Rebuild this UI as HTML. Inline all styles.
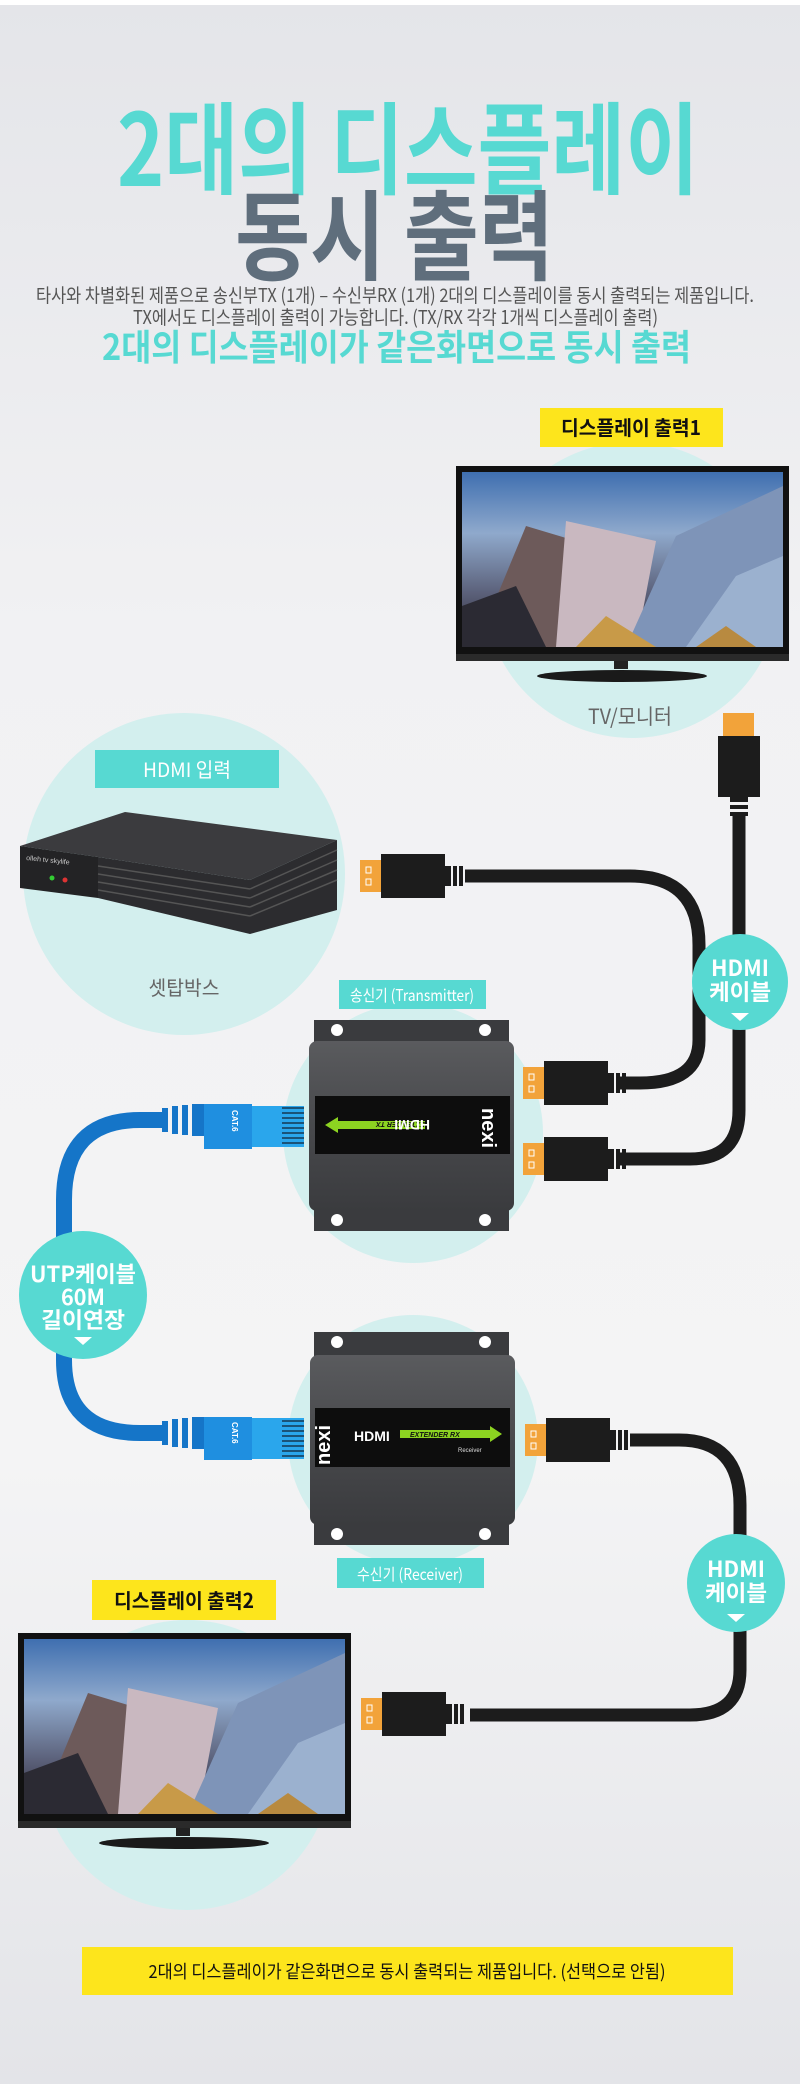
<!DOCTYPE html>
<html><head><meta charset="utf-8"><style>
html,body{margin:0;padding:0;width:800px;height:2084px;overflow:hidden;background:#ececef}
svg{display:block}
text{font-family:"Liberation Sans","Noto Sans CJK KR",sans-serif}
.k{font-family:"Noto Sans CJK KR","Liberation Sans",sans-serif}
</style></head><body>
<svg width="800" height="2084" viewBox="0 0 800 2084" xmlns="http://www.w3.org/2000/svg">
<defs>
<linearGradient id="bg" x1="0" y1="0" x2="0" y2="1">
<stop offset="0" stop-color="#e4e5e9"/><stop offset="0.3" stop-color="#f1f1f3"/><stop offset="0.7" stop-color="#f4f4f5"/><stop offset="1" stop-color="#e3e4e8"/></linearGradient>
<linearGradient id="scr" x1="0" y1="0" x2="0" y2="1">
<stop offset="0" stop-color="#3f6fb0"/><stop offset="0.35" stop-color="#8fa9cc"/><stop offset="0.7" stop-color="#5a5f78"/><stop offset="1" stop-color="#2a2630"/></linearGradient>
<linearGradient id="box" x1="0" y1="0" x2="0" y2="1">
<stop offset="0" stop-color="#5a5b5e"/><stop offset="0.5" stop-color="#48494c"/><stop offset="1" stop-color="#3a3b3e"/></linearGradient>
<g id="tv">
<rect x="0" y="0" width="333" height="195" fill="#111"/>
<rect x="6" y="6" width="321" height="175" fill="url(#scr)"/>
<polygon points="20,181 70,60 120,75 110,181" fill="#6d5a5a"/>
<polygon points="100,181 110,55 200,75 180,181" fill="#c9b8c0"/>
<polygon points="170,181 220,70 327,20 327,181" fill="#7e94b8"/>
<polygon points="230,181 280,110 327,90 327,181" fill="#9bb1cf"/>
<polygon points="6,181 6,140 60,120 90,181" fill="#2b2a33"/>
<polygon points="120,181 150,150 200,181" fill="#c89a48"/>
<polygon points="240,181 270,160 300,181" fill="#b88a40"/>
<rect x="0" y="188" width="333" height="7" fill="#2a2a2a"/>
<rect x="158" y="195" width="14" height="8" fill="#222"/>
<ellipse cx="166" cy="210" rx="85" ry="6" fill="#1a1a1a"/>
</g>
<g id="plugR">
<!-- gold tip left, body, rings right; origin at tip left, center y=0 -->
<rect x="0" y="-16" width="21" height="32" fill="#f2a33a"/>
<rect x="6" y="-9" width="5" height="6" fill="none" stroke="#fff" stroke-width="1"/>
<rect x="6" y="3" width="5" height="6" fill="none" stroke="#fff" stroke-width="1"/>
<rect x="21" y="-22" width="64" height="44" fill="#1c1c1c"/>
<rect x="85" y="-10" width="6" height="20" fill="#1c1c1c"/>
<rect x="93" y="-10" width="4" height="20" fill="#1c1c1c"/>
<rect x="99" y="-10" width="4" height="20" fill="#1c1c1c"/>
</g>
</defs>
<rect width="800" height="2084" fill="url(#bg)"/>
<rect width="800" height="5" fill="#ffffff"/>

<!-- titles -->
<text class="k" x="117" y="186" font-size="100" font-weight="bold" fill="#57d9d2" textLength="582" lengthAdjust="spacingAndGlyphs">2대의 디스플레이</text>
<text class="k" x="235" y="272" font-size="98" font-weight="bold" fill="#5f6e7c" textLength="319" lengthAdjust="spacingAndGlyphs">동시 출력</text>
<text class="k" x="36" y="302" font-size="19" fill="#555" textLength="718" lengthAdjust="spacingAndGlyphs">타사와 차별화된 제품으로 송신부TX (1개) – 수신부RX (1개) 2대의 디스플레이를 동시 출력되는 제품입니다.</text>
<text class="k" x="133" y="324" font-size="19" fill="#555" textLength="525" lengthAdjust="spacingAndGlyphs">TX에서도 디스플레이 출력이 가능합니다. (TX/RX 각각 1개씩 디스플레이 출력)</text>
<text class="k" x="102" y="360" font-size="36" font-weight="bold" fill="#57d9d2" textLength="589" lengthAdjust="spacingAndGlyphs">2대의 디스플레이가 같은화면으로 동시 출력</text>

<!-- circles -->
<circle cx="632" cy="590" r="148" fill="#d3efee"/>
<circle cx="184" cy="874" r="161" fill="#d3efee"/>
<circle cx="413" cy="1133" r="130" fill="#d3efee"/>
<circle cx="413" cy="1440" r="125" fill="#d3efee"/>
<circle cx="187" cy="1765" r="145" fill="#d3efee"/>

<!-- TV1 -->
<rect x="540" y="408" width="183" height="39" fill="#fde51c"/>
<text class="k" x="631" y="435" font-size="20" font-weight="bold" fill="#111" text-anchor="middle" textLength="140" lengthAdjust="spacingAndGlyphs">디스플레이 출력1</text>
<use href="#tv" x="456" y="466"/>
<text class="k" x="630" y="724" font-size="21" fill="#666" text-anchor="middle" textLength="84" lengthAdjust="spacingAndGlyphs">TV/모니터</text>

<!-- set top box -->
<rect x="95" y="750" width="184" height="38" fill="#57d9d2"/>
<text class="k" x="187" y="777" font-size="20" fill="#fff" text-anchor="middle" textLength="88" lengthAdjust="spacingAndGlyphs">HDMI 입력</text>
<polygon points="20,846 125,812 337,840 250,880 98,857" fill="#3b3b3e"/>
<polygon points="20,846 98,857 98,898 20,888" fill="#232325"/>
<polygon points="98,857 250,880 337,840 337,910 250,934 98,898" fill="#2c2c2f"/>
<g stroke="#555" stroke-width="1.5">
<line x1="98" y1="866" x2="250" y2="889"/><line x1="98" y1="874" x2="250" y2="898"/><line x1="98" y1="882" x2="250" y2="907"/><line x1="98" y1="890" x2="250" y2="916"/>
<line x1="250" y1="889" x2="337" y2="850"/><line x1="250" y1="898" x2="337" y2="860"/><line x1="250" y1="907" x2="337" y2="870"/><line x1="250" y1="916" x2="337" y2="880"/></g>
<text x="26" y="860" font-size="7" fill="#ccc" transform="rotate(6 26 860)">olleh tv skylife</text>
<circle cx="52" cy="878" r="2.5" fill="#3c3"/><circle cx="65" cy="880" r="2.5" fill="#d33"/>
<text class="k" x="184" y="995" font-size="20" fill="#666" text-anchor="middle" textLength="71" lengthAdjust="spacingAndGlyphs">셋탑박스</text>

<!-- HDMI cables top -->
<path d="M465,876 H630 Q699,876 699,945 V1040 Q699,1083 640,1083 H620" fill="none" stroke="#1c1c1c" stroke-width="13"/>
<path d="M739,815 V1110 Q739,1159 690,1159 H620" fill="none" stroke="#1c1c1c" stroke-width="13"/>
<use href="#plugR" x="360" y="876"/>
<use href="#plugR" x="523" y="1083"/>
<use href="#plugR" x="523" y="1159"/>
<!-- top plug (vertical, tip up) -->
<rect x="723" y="713" width="31" height="23" fill="#f2a33a"/>
<rect x="718" y="736" width="42" height="61" fill="#1c1c1c"/>
<rect x="730" y="797" width="18" height="5" fill="#1c1c1c"/><rect x="730" y="805" width="18" height="4" fill="#1c1c1c"/><rect x="730" y="812" width="18" height="4" fill="#1c1c1c"/>
<circle cx="740" cy="982" r="48" fill="#57d9d2"/>
<text class="k" x="740" y="976" font-size="22" font-weight="bold" fill="#fff" text-anchor="middle" textLength="58" lengthAdjust="spacingAndGlyphs">HDMI</text>
<text class="k" x="740" y="1000" font-size="22" font-weight="bold" fill="#fff" text-anchor="middle" textLength="62" lengthAdjust="spacingAndGlyphs">케이블</text>
<polygon points="731,1013 749,1013 740,1021" fill="#fff"/>

<!-- UTP cable -->
<path d="M165,1120 H140 Q64,1120 64,1200 V1360 Q64,1433 140,1433 H165" fill="none" stroke="#1575c8" stroke-width="16"/>
<circle cx="83" cy="1295" r="64" fill="#57d9d2"/>
<text class="k" x="83" y="1282" font-size="22" font-weight="bold" fill="#fff" text-anchor="middle" textLength="106" lengthAdjust="spacingAndGlyphs">UTP케이블</text>
<text class="k" x="83" y="1305" font-size="22" font-weight="bold" fill="#fff" text-anchor="middle" textLength="44" lengthAdjust="spacingAndGlyphs">60M</text>
<text class="k" x="83" y="1328" font-size="22" font-weight="bold" fill="#fff" text-anchor="middle" textLength="84" lengthAdjust="spacingAndGlyphs">길이연장</text>
<polygon points="74,1337 92,1337 83,1345" fill="#fff"/>
<!-- blue plugs -->
<g>
<rect x="162" y="1108" width="6" height="24" fill="#1575c8"/><rect x="172" y="1106" width="6" height="28" fill="#1575c8"/><rect x="182" y="1105" width="6" height="30" fill="#1575c8"/><rect x="192" y="1104" width="12" height="32" fill="#1575c8"/>
<rect x="204" y="1104" width="48" height="45" fill="#1f8fe0"/><rect x="252" y="1106" width="52" height="41" fill="#2aa6ec"/>
<g stroke="#123" stroke-width="1.2"><line x1="282" y1="1108" x2="304" y2="1108"/><line x1="282" y1="1113" x2="304" y2="1113"/><line x1="282" y1="1118" x2="304" y2="1118"/><line x1="282" y1="1123" x2="304" y2="1123"/><line x1="282" y1="1128" x2="304" y2="1128"/><line x1="282" y1="1133" x2="304" y2="1133"/><line x1="282" y1="1138" x2="304" y2="1138"/><line x1="282" y1="1143" x2="304" y2="1143"/></g>
<text x="0" y="0" font-size="8" font-weight="bold" fill="#fff" transform="translate(232,1110) rotate(90)">CAT.6</text>
</g>
<g>
<rect x="162" y="1421" width="6" height="24" fill="#1575c8"/><rect x="172" y="1419" width="6" height="28" fill="#1575c8"/><rect x="182" y="1418" width="6" height="30" fill="#1575c8"/><rect x="192" y="1417" width="12" height="32" fill="#1575c8"/>
<rect x="204" y="1417" width="48" height="43" fill="#1f8fe0"/><rect x="252" y="1418" width="52" height="41" fill="#2aa6ec"/>
<g stroke="#123" stroke-width="1.2"><line x1="282" y1="1421" x2="304" y2="1421"/><line x1="282" y1="1426" x2="304" y2="1426"/><line x1="282" y1="1431" x2="304" y2="1431"/><line x1="282" y1="1436" x2="304" y2="1436"/><line x1="282" y1="1441" x2="304" y2="1441"/><line x1="282" y1="1446" x2="304" y2="1446"/><line x1="282" y1="1451" x2="304" y2="1451"/><line x1="282" y1="1456" x2="304" y2="1456"/></g>
<text x="0" y="0" font-size="8" font-weight="bold" fill="#fff" transform="translate(232,1422) rotate(90)">CAT.6</text>
</g>

<!-- Transmitter -->
<rect x="339" y="980" width="147" height="29" fill="#57d9d2"/>
<text class="k" x="412" y="1001" font-size="16" fill="#fff" text-anchor="middle" textLength="124" lengthAdjust="spacingAndGlyphs">송신기 (Transmitter)</text>
<rect x="314" y="1020" width="195" height="211" fill="#3a3b3e"/>
<circle cx="337" cy="1030" r="6" fill="#fff"/><circle cx="485" cy="1030" r="6" fill="#fff"/>
<circle cx="337" cy="1220" r="6" fill="#fff"/><circle cx="485" cy="1220" r="6" fill="#fff"/>
<rect x="309" y="1041" width="205" height="170" rx="8" fill="url(#box)"/>
<rect x="315" y="1096" width="195" height="58" fill="#0d0d0d"/>
<polygon points="325,1125 338,1117 338,1121 425,1121 425,1129 338,1129 338,1133" fill="#8cd321"/>
<text x="335" y="1128" font-size="7" font-style="italic" font-weight="bold" fill="#111" transform="rotate(180 380 1125)">EXTENDER TX</text>
<text x="470" y="1130" font-size="14" font-weight="bold" fill="#fff" transform="rotate(180 450 1125)">HDMI</text>
<text x="0" y="0" font-size="20" font-weight="bold" fill="#fff" transform="translate(482,1108) rotate(90)">nexi</text>
<!-- Receiver -->
<rect x="314" y="1332" width="195" height="213" fill="#3a3b3e"/>
<circle cx="337" cy="1342" r="6" fill="#fff"/><circle cx="485" cy="1342" r="6" fill="#fff"/>
<circle cx="337" cy="1534" r="6" fill="#fff"/><circle cx="485" cy="1534" r="6" fill="#fff"/>
<rect x="310" y="1355" width="205" height="170" rx="8" fill="url(#box)"/>
<rect x="315" y="1408" width="195" height="59" fill="#0d0d0d"/>
<text x="354" y="1441" font-size="14" font-weight="bold" fill="#fff">HDMI</text>
<polygon points="400,1430 490,1430 490,1426 502,1434 490,1442 490,1438 400,1438" fill="#8cd321"/>
<text x="410" y="1437" font-size="7" font-style="italic" font-weight="bold" fill="#111">EXTENDER RX</text>
<text x="458" y="1452" font-size="6" fill="#ddd">Receiver</text>
<text x="0" y="0" font-size="20" font-weight="bold" fill="#fff" transform="translate(330,1465) rotate(-90)">nexi</text>
<rect x="337" y="1558" width="147" height="30" fill="#57d9d2"/>
<text class="k" x="410" y="1580" font-size="16" fill="#fff" text-anchor="middle" textLength="106" lengthAdjust="spacingAndGlyphs">수신기 (Receiver)</text>

<!-- RX HDMI cable -->
<path d="M630,1440 H679 Q740,1440 740,1505 V1670 Q740,1715 690,1715 H470" fill="none" stroke="#1c1c1c" stroke-width="13"/>
<use href="#plugR" x="525" y="1440"/>
<use href="#plugR" x="361" y="1714"/>
<circle cx="736" cy="1583" r="49" fill="#57d9d2"/>
<text class="k" x="736" y="1577" font-size="22" font-weight="bold" fill="#fff" text-anchor="middle" textLength="58" lengthAdjust="spacingAndGlyphs">HDMI</text>
<text class="k" x="736" y="1601" font-size="22" font-weight="bold" fill="#fff" text-anchor="middle" textLength="62" lengthAdjust="spacingAndGlyphs">케이블</text>
<polygon points="727,1614 745,1614 736,1622" fill="#fff"/>

<!-- TV2 -->
<rect x="92" y="1580" width="184" height="40" fill="#fde51c"/>
<text class="k" x="184" y="1608" font-size="20" font-weight="bold" fill="#111" text-anchor="middle" textLength="140" lengthAdjust="spacingAndGlyphs">디스플레이 출력2</text>
<use href="#tv" x="18" y="1633"/>

<!-- bottom bar -->
<rect x="82" y="1947" width="651" height="48" fill="#fde51c"/>
<text class="k" x="407" y="1978" font-size="18" fill="#111" text-anchor="middle" textLength="517" lengthAdjust="spacingAndGlyphs">2대의 디스플레이가 같은화면으로 동시 출력되는 제품입니다. (선택으로 안됨)</text>
</svg>
</body></html>
